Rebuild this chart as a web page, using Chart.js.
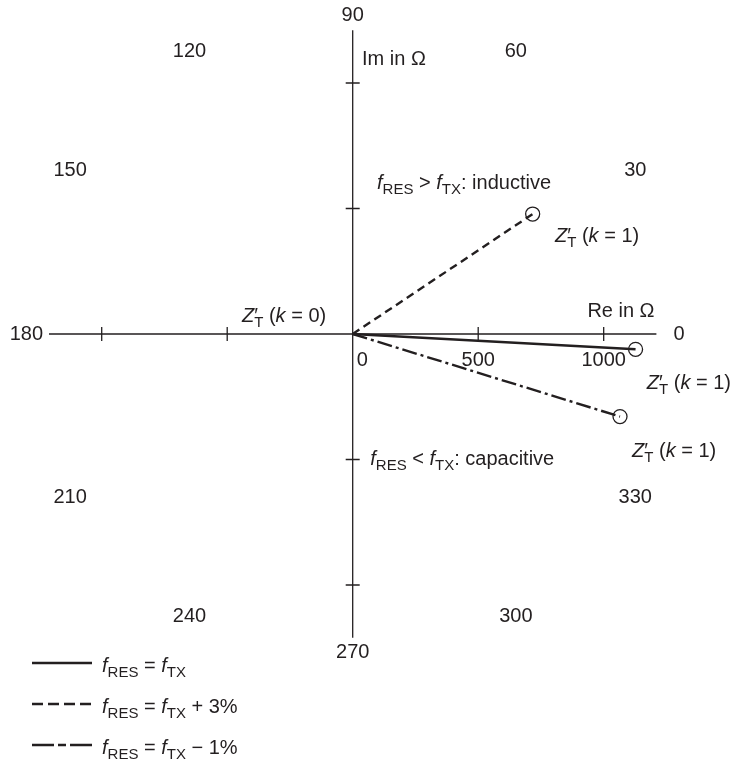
<!DOCTYPE html>
<html>
<head>
<meta charset="utf-8">
<script src="https://cdn.jsdelivr.net/npm/chart.js@4/dist/chart.umd.min.js"></script>
<style>
  html, body { margin: 0; padding: 0; background: #fff; }
  #wrap { width: 740px; height: 759px; }
</style>
</head>
<body>
<div id="wrap"><canvas id="phasor" width="740" height="759"></canvas></div>
<script>
// Impedance phasors Z'T for three resonance detunings
const seriesNames = ['f_RES = f_TX', 'f_RES = f_TX + 3%', 'f_RES = f_TX - 1%'];
const reValues = [1127, 717, 1065];   // Re in Ohm at k = 1
const imValues = [-61, 478, -329];    // Im in Ohm at k = 1
const axisTickValues = [-1000, -500, 500, 1000];
const reTickValues = [0, 500, 1000];
const reTickLabels = ['0', '500', '1000'];
const angleLabels = [0, 30, 60, 90, 120, 150, 180, 210, 240, 270, 300, 330];

const ink = '#231f20';
const dashes = [[], [8, 5], [15, 4, 3, 4]];
const legendDashes = [[], [11, 5], [22, 4, 8, 4]];

const datasets = seriesNames.map((name, i) => ({
    label: name,
    data: [{ x: 0, y: 0 }, { x: reValues[i], y: imValues[i] }],
    showLine: true,
    borderColor: ink,
    borderWidth: 2.4,
    borderDash: dashes[i],
    pointRadius: [0, 7],
    pointBorderWidth: 1.3,
    pointBorderColor: ink,
    pointBackgroundColor: 'rgba(0,0,0,0)'
}));

const FONT = '"Liberation Sans", Arial, sans-serif';
const BASE = 20, SUB = 15;

// rich text: segments {t, it, sub, under}
function drawRich(ctx, segs, x, y) {
    const fontFor = s => (s.it ? 'italic ' : '') + (s.sub ? SUB : BASE) + 'px ' + FONT;
    let cx = x, prevW = 0;
    const base = y + 7;
    ctx.textAlign = 'left';
    ctx.textBaseline = 'alphabetic';
    segs.forEach(s => {
        ctx.font = fontFor(s);
        if (s.under) cx -= prevW;
        const w = ctx.measureText(s.t).width;
        ctx.fillText(s.t, cx, s.sub ? base + 5 : base);
        cx += w;
        prevW = w;
    });
}

const zT = k => [{ t: 'Z', it: true }, { t: '\u2032' }, { t: 'T', sub: true, under: true }, { t: ' (' }, { t: 'k', it: true }, { t: ' = ' + k + ')' }];
const fEq = tail => [{ t: 'f', it: true }, { t: 'RES', sub: true }, { t: ' = ' }, { t: 'f', it: true }, { t: 'TX', sub: true }].concat(tail ? [{ t: tail }] : []);

const notes = [
    { segs: [{ t: 'Im in \u03A9' }], x: 37, y: 1100 },
    { segs: [{ t: 'Re in \u03A9' }], x: 935, y: 96 },
    { segs: [{ t: 'f', it: true }, { t: 'RES', sub: true }, { t: ' > ' }, { t: 'f', it: true }, { t: 'TX', sub: true }, { t: ': inductive' }], x: 97, y: 606 },
    { segs: [{ t: 'f', it: true }, { t: 'RES', sub: true }, { t: ' < ' }, { t: 'f', it: true }, { t: 'TX', sub: true }, { t: ': capacitive' }], x: 70, y: -494 },
    { segs: zT(0), x: -441, y: 76 },
    { segs: zT(1), x: 806, y: 394 },
    { segs: zT(1), x: 1172, y: -191 },
    { segs: zT(1), x: 1113, y: -462 }
];

const phasorPlugin = {
    id: 'phasor',
    beforeDatasetsDraw(chart) {
        const { ctx, scales: { x, y } } = chart;
        const x0 = x.getPixelForValue(0), y0 = y.getPixelForValue(0);
        ctx.save();
        ctx.strokeStyle = ink;
        ctx.lineWidth = 1.3;
        ctx.beginPath();
        ctx.moveTo(x.left, y0); ctx.lineTo(x.right, y0);
        ctx.moveTo(x0, y.top); ctx.lineTo(x0, y.bottom);
        axisTickValues.forEach(v => {
            const px = x.getPixelForValue(v), py = y.getPixelForValue(v);
            ctx.moveTo(px, y0 - 7); ctx.lineTo(px, y0 + 7);
            ctx.moveTo(x0 - 7, py); ctx.lineTo(x0 + 7, py);
        });
        ctx.stroke();
        ctx.restore();
    },
    afterDraw(chart) {
        const { ctx, scales: { x, y } } = chart;
        const y0 = y.getPixelForValue(0);
        ctx.save();
        ctx.fillStyle = ink;
        // angle labels around the diagram
        ctx.font = BASE + 'px ' + FONT;
        ctx.textAlign = 'center';
        ctx.textBaseline = 'middle';
        angleLabels.forEach(a => {
            const rad = a * Math.PI / 180;
            const rx = 1300, ry = (a === 90 || a === 270) ? 1270 : 1300;
            ctx.fillText(String(a), x.getPixelForValue(rx * Math.cos(rad)), y.getPixelForValue(ry * Math.sin(rad)));
        });
        // Re tick labels
        reTickValues.forEach((v, i) => {
            const px = x.getPixelForValue(v);
            ctx.textAlign = v === 0 ? 'left' : 'center';
            ctx.fillText(reTickLabels[i], v === 0 ? px + 4 : px, y0 + 26);
        });
        notes.forEach(n => drawRich(ctx, n.segs, x.getPixelForValue(n.x), y.getPixelForValue(n.y)));
        // legend
        const tails = ['', ' + 3%', ' \u2212 1%'];
        seriesNames.forEach((name, i) => {
            const ly = 663 + i * 41;
            ctx.strokeStyle = ink;
            ctx.lineWidth = 2.4;
            ctx.setLineDash(legendDashes[i]);
            ctx.beginPath();
            ctx.moveTo(32, ly); ctx.lineTo(92, ly);
            ctx.stroke();
            ctx.setLineDash([]);
            drawRich(ctx, fEq(tails[i]), 102, ly + 2);
        });
        ctx.restore();
    }
};

new Chart(document.getElementById('phasor'), {
    type: 'scatter',
    data: { datasets: datasets },
    options: {
        responsive: false,
        animation: false,
        layout: { padding: { left: 49, right: 83.6, top: 30.3, bottom: 121.3 } },
        plugins: { legend: { display: false }, tooltip: { enabled: false } },
        scales: {
            x: { type: 'linear', display: false, min: -1210, max: 1210 },
            y: { type: 'linear', display: false, min: -1210, max: 1210 }
        }
    },
    plugins: [phasorPlugin]
});
</script>
</body>
</html>
